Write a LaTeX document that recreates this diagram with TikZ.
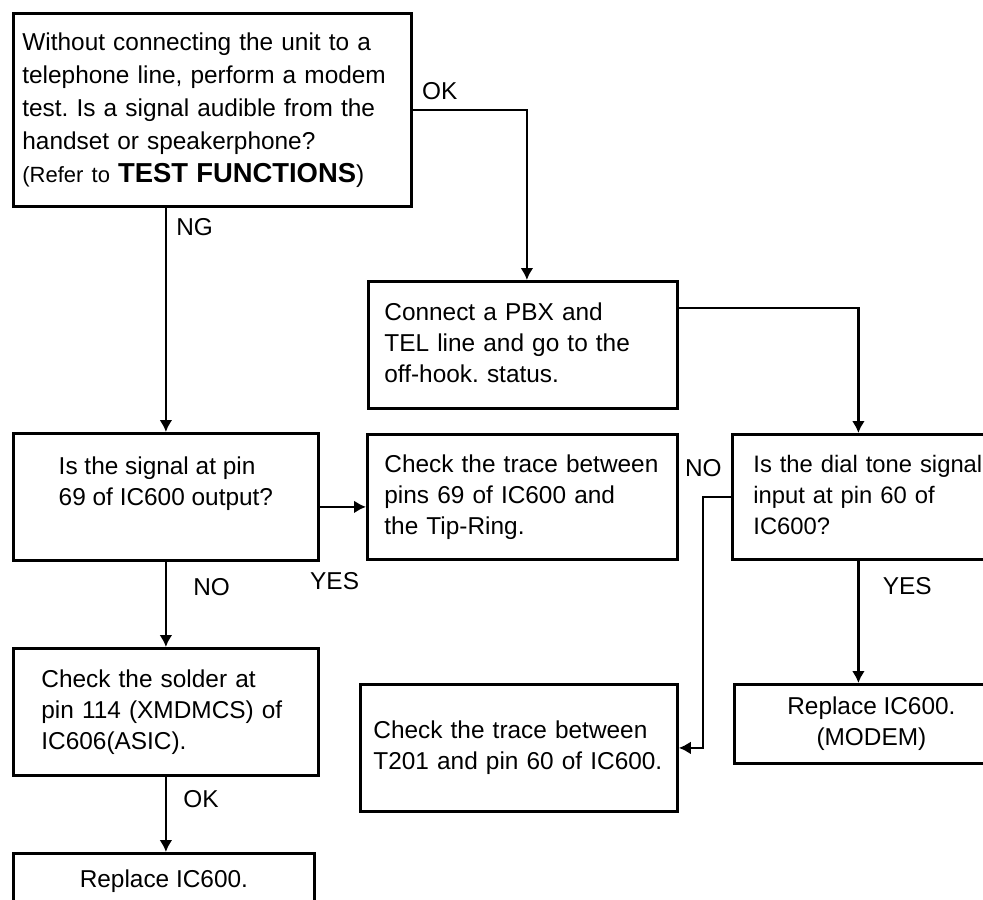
\documentclass[tikz,border=0pt]{standalone}
\usepackage{fontspec}
\setmainfont{Liberation Sans}
\usetikzlibrary{arrows.meta}
\frenchspacing
\newcommand{\steplines}[1]{\begin{tabular}{@{}l@{}}#1\end{tabular}}

\begin{document}
\begin{tikzpicture}[x=0.5pt, y=-0.5pt,
    stepbox/.style={draw, line width=1.4pt, anchor=north west, align=left,
      inner ysep=0pt, font=\fontsize{12.2}{15.5}\selectfont},
    flow/.style={line width=1.4pt, -{Latex[length=6pt,width=6.5pt]}},
    lbl/.style={font=\fontsize{12.2}{15.5}\selectfont, inner sep=0pt, anchor=base west}]
  \clip (0,0) rectangle (983,899);
  % left column
  \node[stepbox, font=\fontsize{12.2}{16.5}\selectfont, minimum width=199pt, minimum height=96.5pt,
        text width=190pt, inner xsep=4.5pt] (modemtest) at (12,12)
    {\steplines{Without connecting the unit to a\\
     telephone line, perform a modem\\
     test. Is a signal audible from the\\
     handset or speakerphone?\\
     {\fontsize{11}{16.5}\selectfont(Refer to} {\fontsize{13.7}{16.5}\selectfont\bfseries TEST FUNCTIONS})}};
  \node[stepbox, minimum width=152.5pt, minimum height=63.5pt] (pin69) at (12,432)
    {Is the signal at pin\\69 of IC600 output?\\\mbox{}};
  \node[stepbox, minimum width=152.5pt, minimum height=63.5pt, text width=124.5pt, inner xsep=14pt] (solder) at (12,647)
    {\steplines{Check the solder at\\pin 114 (XMDMCS) of\\IC606(ASIC).}};
  \node[stepbox, align=center, minimum width=150.5pt, minimum height=28pt] (replace) at (12,852)
    {Replace IC600.};
  % middle column
  \node[stepbox, minimum width=154.5pt, minimum height=63.5pt, text width=138.5pt, inner xsep=8pt] (pbx) at (367,280)
    {\steplines{Connect a PBX and\\TEL line and go to the\\off-hook. status.}};
  \node[stepbox, minimum width=155pt, minimum height=62.5pt, text width=138pt, inner xsep=8.5pt] (tipring) at (366,433)
    {\steplines{Check the trace between\\pins 69 of IC600 and\\the Tip-Ring.}};
  \node[stepbox, minimum width=158.5pt, minimum height=63.5pt, text width=145.5pt, inner xsep=6.5pt] (t201) at (359,683)
    {\steplines{Check the trace between\\T201 and pin 60 of IC600.}};
  % right column
  \node[stepbox, font=\fontsize{11.9}{15.5}\selectfont, minimum width=140pt, minimum height=62.5pt,
        text width=119pt, inner xsep=10.5pt] (dialtone) at (731,433)
    {\steplines{Is the dial tone signal\\input at pin 60 of\\IC600?}};
  \node[stepbox, align=center, minimum width=137pt, minimum height=39.5pt] (modemic) at (733,683)
    {Replace IC600.\\(MODEM)};

  \coordinate (yesout) at ([yshift=-5pt]pin69.east);
  \coordinate (dialtap) at ([xshift=-7pt]dialtone.south);

  \draw[flow] (modemtest.east) -| node[lbl, pos=0, xshift=4pt, yshift=5pt] {OK} ([xshift=2pt]pbx.north);
  \draw[flow] (pin69.north |- modemtest.south) -- node[lbl, pos=0, xshift=4.5pt, yshift=-14pt] {NG} (pin69.north);
  \draw[flow] (yesout) -- node[lbl, pos=0, xshift=-5.5pt, yshift=-41.5pt] {YES} (yesout -| tipring.west);
  \draw[flow] (pin69.south) -- node[lbl, pos=0, xshift=13pt, yshift=-17pt] {NO} (solder.north);
  \draw[flow] (solder.south) -- node[lbl, pos=0, xshift=8pt, yshift=-15.5pt] {OK} (solder.south |- replace.north);
  \draw[flow] ([yshift=-14pt]pbx.north east) -| ([xshift=-7pt]dialtone.north);
  \draw[flow] (dialtone.west) -- node[lbl, pos=0, anchor=base east, xshift=-4pt, yshift=10pt] {NO} ++(-14pt,0) |- (t201.east);
  \draw[flow] (dialtap) -- node[lbl, pos=0, xshift=11.5pt, yshift=-17pt] {YES} (dialtap |- modemic.north);
\end{tikzpicture}
\end{document}
